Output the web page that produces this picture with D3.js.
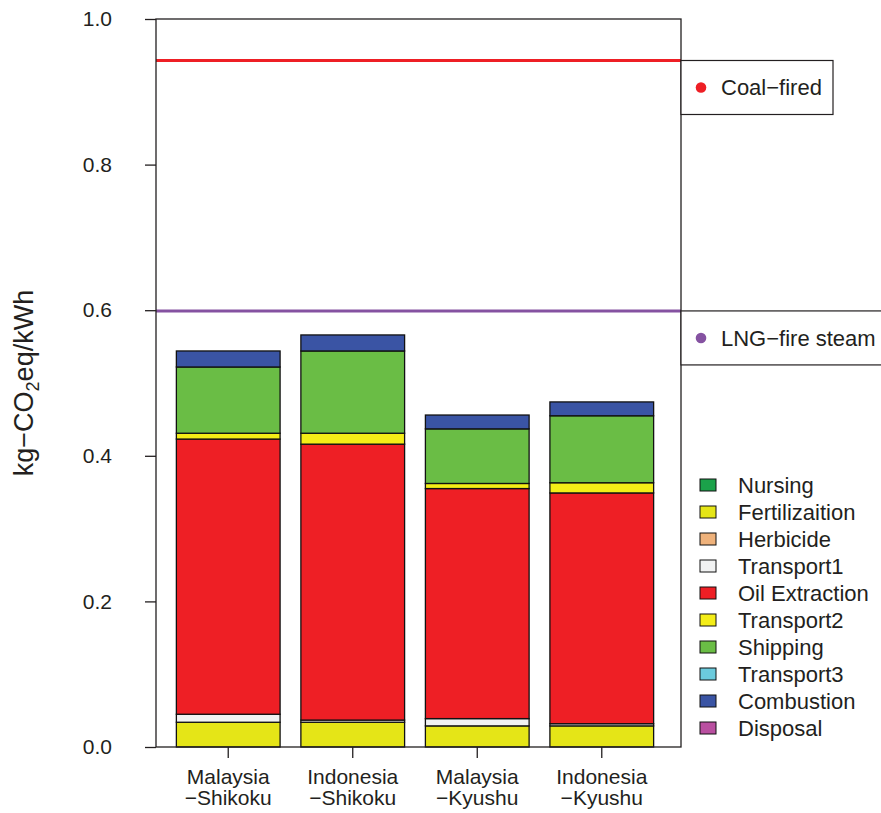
<!DOCTYPE html>
<html>
<head>
<meta charset="utf-8">
<script src="https://cdn.jsdelivr.net/npm/d3@7"></script>
<style>
  body { margin: 0; background: #fff; }
  svg text { font-family: "Liberation Sans", Arial, Helvetica, sans-serif; fill: #231f20; }
</style>
</head>
<body>
<svg id="chart" width="881" height="813"></svg>
<script>
const routes = ["Malaysia\n\u2212Shikoku", "Indonesia\n\u2212Shikoku", "Malaysia\n\u2212Kyushu", "Indonesia\n\u2212Kyushu"];
const stages = ["Nursing", "Fertilizaition", "Herbicide", "Transport1", "Oil Extraction",
  "Transport2", "Shipping", "Transport3", "Combustion", "Disposal"];
const stageColors = ["#1ba24a", "#e5e517", "#efb27b", "#f1f2f2", "#ee1f25",
  "#f4ed17", "#6abd45", "#6bcbdd", "#3a54a4", "#b94fa0"];

// kg-CO2eq/kWh per stage, one array per route (same order as stages)
const malaysiaShikoku  = [0, 0.034, 0, 0.011, 0.378, 0.008, 0.091, 0, 0.022, 0];
const indonesiaShikoku = [0, 0.034, 0, 0.003, 0.379, 0.015, 0.113, 0, 0.022, 0];
const malaysiaKyushu   = [0, 0.029, 0, 0.010, 0.316, 0.007, 0.075, 0, 0.019, 0];
const indonesiaKyushu  = [0, 0.029, 0, 0.003, 0.317, 0.014, 0.092, 0, 0.019, 0];

const refNames = ["Coal\u2212fired", "LNG\u2212fire steam"];
const refValues = [0.943, 0.599];
const refColors = ["#ee1f25", "#8552a1"];

const yTicks = [0, 0.2, 0.4, 0.6, 0.8, 1.0];

const svg = d3.select("#chart");
const plotLeft = 156, plotRight = 681, plotTop = 19, plotBottom = 747;

const rows = [malaysiaShikoku, indonesiaShikoku, malaysiaKyushu, indonesiaKyushu].map((vals, i) => {
  const row = { route: routes[i] };
  stages.forEach((s, j) => row[s] = vals[j]);
  return row;
});

const x = d3.scaleBand().domain(routes).range([166, 664]).paddingInner(0.167).paddingOuter(0.0833);
const y = d3.scaleLinear().domain([0, 1]).range([plotBottom, plotTop]);
const color = d3.scaleOrdinal(stages, stageColors);

const series = d3.stack().keys(stages)(rows);

//Stacked bars
svg.append("g")
  .selectAll("g")
  .data(series)
  .join("g")
  .attr("fill", (d) => color(d.key))
  .selectAll("rect")
  .data((d) => d.filter((p) => p[1] - p[0] > 0))
  .join("rect")
  .attr("x", (p) => x(p.data.route))
  .attr("width", x.bandwidth())
  .attr("y", (p) => y(p[1]))
  .attr("height", (p) => y(p[0]) - y(p[1]))
  .attr("stroke", "#111")
  .attr("stroke-width", 1.3);

//Reference lines
svg.append("g")
  .selectAll("line")
  .data(refValues)
  .join("line")
  .attr("x1", plotLeft)
  .attr("x2", plotRight)
  .attr("y1", (d) => y(d))
  .attr("y2", (d) => y(d))
  .attr("stroke", (d, i) => refColors[i])
  .attr("stroke-width", 3);

//Frame
svg.append("rect")
  .attr("x", plotLeft).attr("y", plotTop)
  .attr("width", plotRight - plotLeft).attr("height", plotBottom - plotTop)
  .attr("fill", "none").attr("stroke", "#231f20").attr("stroke-width", 1.3);

//Y axis
const yAxis = svg.append("g")
  .attr("transform", `translate(${plotLeft},0)`)
  .call(d3.axisLeft(y).tickValues(yTicks).tickFormat(d3.format(".1f")).tickSize(11).tickPadding(33));
yAxis.select(".domain").remove();
yAxis.selectAll("line").attr("stroke", "#231f20").attr("stroke-width", 1.3);
yAxis.selectAll("text").attr("font-size", 21).attr("fill", "#231f20");

//X axis
const xAxis = svg.append("g")
  .attr("transform", `translate(0,${plotBottom})`)
  .call(d3.axisBottom(x).tickSize(11).tickFormat(""));
xAxis.select(".domain").remove();
xAxis.selectAll("line").attr("stroke", "#231f20").attr("stroke-width", 1.3);
xAxis.selectAll(".tick")
  .append("text")
  .attr("font-size", 21)
  .attr("text-anchor", "middle")
  .attr("fill", "#231f20")
  .selectAll("tspan")
  .data((d) => d.split("\n"))
  .join("tspan")
  .attr("x", 0)
  .attr("y", (d, i) => 37 + i * 21)
  .text((d) => d);

//Y label
svg.append("text")
  .attr("transform", `translate(33,${(plotTop + plotBottom) / 2}) rotate(-90)`)
  .attr("text-anchor", "middle")
  .attr("font-size", 27)
  .html("kg\u2212CO<tspan font-size='18' dy='6'>2</tspan><tspan dy='-6'>eq/kWh</tspan>");

//Reference labels
const refBoxes = [{ w: 152 }, { w: 220 }];
const refG = svg.append("g")
  .selectAll("g")
  .data(refValues)
  .join("g")
  .attr("transform", (d) => `translate(${plotRight},${y(d)})`);
refG.append("rect")
  .attr("width", (d, i) => refBoxes[i].w)
  .attr("height", 54)
  .attr("fill", "#fff")
  .attr("stroke", "#231f20")
  .attr("stroke-width", 1.2);
refG.append("circle")
  .attr("cx", 20).attr("cy", 27).attr("r", 5.3)
  .attr("fill", (d, i) => refColors[i]);
refG.append("text")
  .attr("x", 40).attr("y", 27).attr("dy", "0.35em")
  .attr("font-size", 22)
  .text((d, i) => refNames[i]);

//Legend
const legend = svg.append("g")
  .selectAll("g")
  .data(stages)
  .join("g")
  .attr("transform", (d, i) => `translate(700,${485 + i * 27})`);
legend.append("rect")
  .attr("y", -6).attr("width", 16).attr("height", 12)
  .attr("fill", (d) => color(d))
  .attr("stroke", "#111").attr("stroke-width", 1);
legend.append("text")
  .attr("x", 38).attr("dy", "0.35em")
  .attr("font-size", 22)
  .text((d) => d);
</script>
</body>
</html>
